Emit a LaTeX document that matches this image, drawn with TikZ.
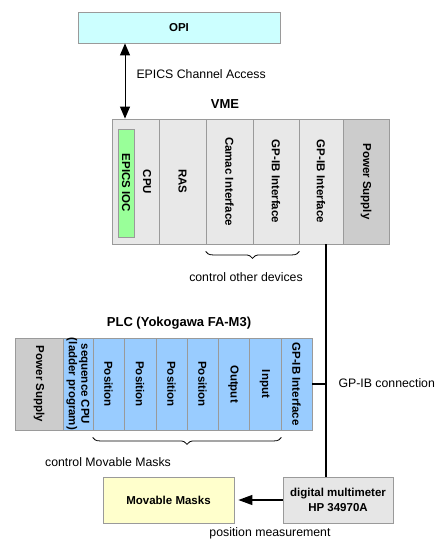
\documentclass[tikz,border=0pt]{standalone}
\usepackage{fontspec}
\setmainfont{Liberation Sans}
\usetikzlibrary{arrows.meta,decorations.pathreplacing,calc}
\definecolor{bord}{HTML}{9A9A9A}
\definecolor{opicol}{HTML}{CCFFFF}
\definecolor{vmecol}{HTML}{E8E8E8}
\definecolor{pscol}{HTML}{CCCCCC}
\definecolor{ioccol}{HTML}{99FF99}
\definecolor{plccol}{HTML}{99CCFF}
\definecolor{maskcol}{HTML}{FFFFCC}
\definecolor{dmmcol}{HTML}{E6E6E6}
\begin{document}
\begin{tikzpicture}[x=1pt,y=-1pt,
  cell/.style={draw=bord, line width=0.8pt, inner sep=0pt},
  vlabel/.style={rotate=-90, inner sep=0pt, align=center, font=\fontsize{11.5}{12.5}\selectfont\bfseries},
  boxlabel/.style={align=center, font=\fontsize{11.5}{15}\selectfont\bfseries},
  title/.style={font=\fontsize{13}{15}\selectfont\bfseries},
  note/.style={font=\fontsize{12.3}{14}\selectfont},
  brc/.style={decorate, decoration={brace, mirror, amplitude=7pt}, line width=0.8pt},
  gpib/.style={line width=2.6pt}
]
\useasboundingbox (0,0) rectangle (438,540);

% OPI
\node[cell, fill=opicol, minimum width=202pt, minimum height=31pt] (opi) at (179,27.5) {};
\node[boxlabel] (opit) at (opi.center) {OPI};

% VME
\node[title] (vmet) at (225,104) {VME};
\node[cell, fill=vmecol, minimum width=47pt, minimum height=125pt] (vcpu) at (135.5,181.5) {};
\node[cell, fill=vmecol, minimum width=47pt, minimum height=125pt] (vras) at (182.5,181.5) {};
\node[cell, fill=vmecol, minimum width=47pt, minimum height=125pt] (vcam) at (229.5,181.5) {};
\node[cell, fill=vmecol, minimum width=46pt, minimum height=125pt] (vgp1) at (276,181.5) {};
\node[cell, fill=vmecol, minimum width=44pt, minimum height=125pt] (vgp2) at (321,181.5) {};
\node[cell, fill=pscol, minimum width=46pt, minimum height=125pt] (vps) at (366,181.5) {};
\node[cell, fill=ioccol, minimum width=16pt, minimum height=108pt] (ioc) at (126,183) {};
\node[vlabel] (ioct) at (ioc.center) {EPICS IOC};
\node[vlabel] (cput) at (147,182) {CPU};
\node[vlabel] (rast) at (vras.center) {RAS};
\node[vlabel] (camt) at (vcam.center) {Camac Interface};
\node[vlabel] (gp1t) at (vgp1.center) {GP-IB Interface};
\node[vlabel] (gp2t) at (vgp2.center) {GP-IB Interface};
\node[vlabel] (vpst) at (vps.center) {Power Supply};

% EPICS CA arrow
\draw[line width=1pt, {Triangle[width=10pt,length=12pt]}-{Triangle[width=10pt,length=12pt]}]
  (opi.south -| 125,0) -- (vcpu.north -| 125,0);
\node[note, anchor=west] (cat) at (133,74) {EPICS Channel Access};

% brace under VME
\path (vcam.south west) ++(0,7) coordinate (b1s) (vgp1.south east) ++(0,7) coordinate (b1e);
\draw[brc] (b1s) -- (b1e);
\node[note] (cod) at (246,277) {control other devices};

% PLC
\node[title] (plct) at (179,323) {PLC (Yokogawa FA-M3)};
\node[cell, fill=pscol, minimum width=48pt, minimum height=92pt] (pps) at (39,384) {};
\node[cell, fill=plccol, minimum width=30pt, minimum height=92pt] (pcpu) at (78,384) {};
\node[cell, fill=plccol, minimum width=31pt, minimum height=92pt] (pp1) at (108.5,384) {};
\node[cell, fill=plccol, minimum width=32pt, minimum height=92pt] (pp2) at (140,384) {};
\node[cell, fill=plccol, minimum width=31pt, minimum height=92pt] (pp3) at (171.5,384) {};
\node[cell, fill=plccol, minimum width=31pt, minimum height=92pt] (pp4) at (202.5,384) {};
\node[cell, fill=plccol, minimum width=31pt, minimum height=92pt] (pout) at (233.5,384) {};
\node[cell, fill=plccol, minimum width=32pt, minimum height=92pt] (pin) at (265,384) {};
\node[cell, fill=plccol, minimum width=31pt, minimum height=92pt] (pgp) at (296.5,384) {};
\node[vlabel] (ppst) at (pps.center) {Power Supply};
\node[vlabel] (pcput) at (pcpu.center) {sequence CPU\\(ladder program)};
\node[vlabel] (pp1t) at (pp1.center) {Position};
\node[vlabel] (pp2t) at (pp2.center) {Position};
\node[vlabel] (pp3t) at (pp3.center) {Position};
\node[vlabel] (pp4t) at (pp4.center) {Position};
\node[vlabel] (poutt) at (pout.center) {Output};
\node[vlabel] (pint) at (pin.center) {Input};
\node[vlabel] (pgpt) at (pgp.center) {GP-IB Interface};

% brace under PLC
\path (pp1.south west) ++(0,7) coordinate (b2s) (pin.south east) ++(0,7) coordinate (b2e);
\draw[brc] (b2s) -- (b2e);
\node[note] (cmm) at (108,462) {control Movable Masks};

% bottom boxes
\node[cell, fill=maskcol, minimum width=131pt, minimum height=46pt] (mask) at (168.5,500) {};
\node[boxlabel] (maskt) at (mask.center) {Movable Masks};
\node[cell, fill=dmmcol, minimum width=110pt, minimum height=46pt] (dmm) at (338,500) {};
\node[boxlabel] (dmmt) at (dmm.center) {digital multimeter\\HP 34970A};

% GP-IB bus
\coordinate (xl) at (326,0);
\draw[gpib] (vgp2.south -| xl) -- (dmm.north -| xl);
\draw[gpib] (pgp.east) -- (pgp.east -| xl);
\node[note, anchor=west] (gpc) at (335,383) {GP-IB connection};

% measurement arrow
\draw[line width=1.2pt, -{Triangle[width=10pt,length=14pt]}] (dmm.west) -- ($(mask.east)+(4,0)$);
\node[note] (pmt) at (270,533) {position measurement};
\end{tikzpicture}
\end{document}
